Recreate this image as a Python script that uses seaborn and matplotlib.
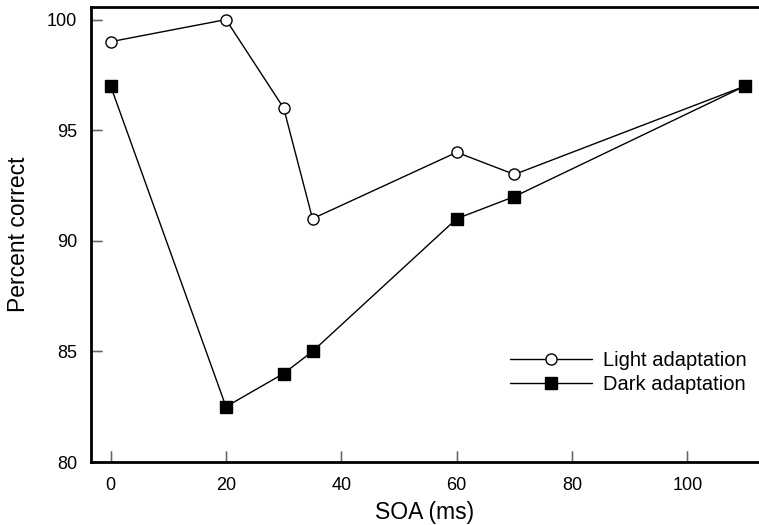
import matplotlib
matplotlib.use("Agg")
import matplotlib.pyplot as plt
import matplotlib.transforms as mtrans
import seaborn as sns
import pandas as pd

soa = [0, 20, 30, 35, 60, 70, 110]
light = [99, 100, 96, 91, 94, 93, 97]
dark = [97, 82.5, 84, 85, 91, 92, 97]
x_ticks = [0, 20, 40, 60, 80, 100]
y_ticks = [80, 85, 90, 95, 100]

sns.set_theme(style="ticks")
plt.rcParams['font.family'] = ['Liberation Sans', 'DejaVu Sans']
plt.rcParams['text.color'] = 'black'
plt.rcParams['axes.labelcolor'] = 'black'

fig = plt.figure(figsize=(7.59, 5.25), dpi=100)
ax = fig.add_axes([0.1199, 0.12, 0.8801, 0.8667])

df_l = pd.DataFrame({"SOA": soa, "pc": light})
df_d = pd.DataFrame({"SOA": soa, "pc": dark})

sns.lineplot(data=df_l, x="SOA", y="pc", ax=ax, color="black", linewidth=1.0,
             marker="o", markersize=8, markerfacecolor="white",
             markeredgecolor="black", markeredgewidth=1.0,
             label="Light adaptation")
sns.lineplot(data=df_d, x="SOA", y="pc", ax=ax, color="black", linewidth=1.0,
             marker="s", markersize=8, markerfacecolor="black",
             markeredgecolor="black", markeredgewidth=1.0,
             label="Dark adaptation")

ax.set_xlim(-3.4, 112.4)
ax.set_ylim(80, 100.57)
ax.set_xticks(x_ticks)
ax.set_yticks(y_ticks)
ax.tick_params(which="major", bottom=True, left=True, top=False, right=False,
               direction="in", length=8, width=1.0, color="#555555",
               labelcolor="black", labelsize=13)
ax.tick_params(axis="x", pad=10.5)
ax.tick_params(axis="y", pad=10)

# explicit inward tick marks (in case native ticks are not rendered)
xt = ax.get_xaxis_transform()
yt = ax.get_yaxis_transform()
for t in x_ticks:
    ax.plot([t, t], [0, 0.024], transform=xt, color="#666666", lw=0.9,
            clip_on=False, zorder=3, solid_capstyle="butt")
for t in y_ticks:
    ax.plot([0, 0.016], [t, t], transform=yt, color="#666666", lw=0.9,
            clip_on=False, zorder=3, solid_capstyle="butt")

ax.set_xlabel("SOA (ms)", fontsize=16.5, color="black", labelpad=5)
ax.set_ylabel("Percent correct", fontsize=16.5, color="black", labelpad=12)

for side in ["left", "top", "bottom"]:
    ax.spines[side].set_visible(True)
    ax.spines[side].set_linewidth(2)
    ax.spines[side].set_color("black")
    ax.spines[side].set_zorder(4)
ax.spines["right"].set_visible(False)

handles, labels = ax.get_legend_handles_labels()
leg = ax.legend(handles[:2], labels[:2], loc="upper left",
                bbox_to_anchor=(0.600, 0.284), frameon=False,
                fontsize=14.5, handlelength=4.1, handletextpad=0.5,
                labelspacing=0.27)
for t in leg.get_texts():
    t.set_color("black")

fig.savefig("out.png", dpi=100)
